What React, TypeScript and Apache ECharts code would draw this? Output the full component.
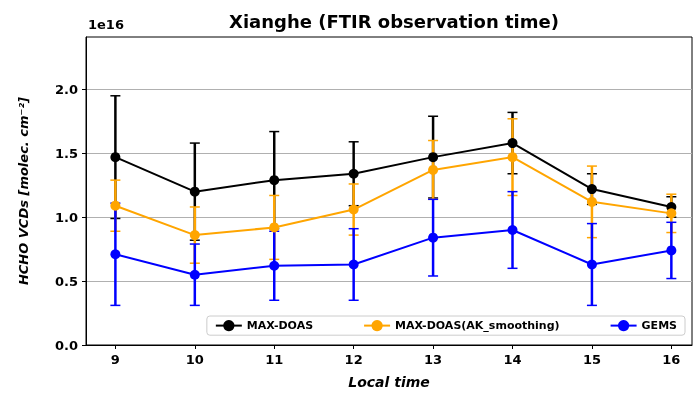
import * as echarts from 'echarts';
import { useEffect, useRef } from 'react';

const hours = [9, 10, 11, 12, 13, 14, 15, 16];
const maxdoas = [1.47, 1.2, 1.29, 1.34, 1.47, 1.58, 1.22, 1.08];
const maxdoasErr = [0.48, 0.38, 0.38, 0.25, 0.32, 0.24, 0.12, 0.08];
const akSmooth = [1.09, 0.86, 0.92, 1.06, 1.37, 1.47, 1.12, 1.03];
const akErr = [0.2, 0.22, 0.25, 0.2, 0.23, 0.3, 0.28, 0.15];
const gems = [0.71, 0.55, 0.62, 0.63, 0.84, 0.9, 0.63, 0.74];
const gemsErr = [0.4, 0.24, 0.27, 0.28, 0.3, 0.3, 0.32, 0.22];
const yTicks = [0, 0.5, 1.0, 1.5, 2.0];

function errSeries(vals: number[], errs: number[], color: string) {
    return {
        type: 'custom',
        silent: true,
        data: hours.map((h, i) => [h, vals[i] - errs[i], vals[i] + errs[i]]),
        renderItem: (params: any, api: any) => {
            const lo = api.coord([api.value(0), api.value(1)]);
            const hi = api.coord([api.value(0), api.value(2)]);
            const w = 5;
            const style = { stroke: color, lineWidth: 2.5 };
            return {
                type: 'group',
                children: [
                    { type: 'line', shape: { x1: lo[0], y1: lo[1], x2: hi[0], y2: hi[1] }, style },
                    { type: 'line', shape: { x1: lo[0] - w, y1: lo[1], x2: lo[0] + w, y2: lo[1] }, style: { stroke: color, lineWidth: 1.5 } },
                    { type: 'line', shape: { x1: hi[0] - w, y1: hi[1], x2: hi[0] + w, y2: hi[1] }, style: { stroke: color, lineWidth: 1.5 } },
                ],
            };
        },
    };
}

function lineSeries(name: string, vals: number[], color: string) {
    return {
        name,
        type: 'line',
        data: hours.map((h, i) => [h, vals[i]]),
        symbol: 'circle',
        symbolSize: 10,
        lineStyle: { color, width: 2 },
        itemStyle: { color },
        z: 3,
    };
}

export default function App() {
    const chartRef = useRef<HTMLDivElement>(null);

    useEffect(() => {
        const chart = echarts.init(chartRef.current, null, { renderer: 'svg' });
        chart.setOption({
            animation: false,
            textStyle: { fontFamily: 'DejaVu Sans' },
            title: {
                text: 'Xianghe (FTIR observation time)',
                left: 389, top: 7, textAlign: 'center',
                textStyle: { fontSize: 18, fontWeight: 'bold', color: '#000' },
            },
            graphic: [
                { type: 'text', left: 88, top: 18, style: { text: '1e16', font: 'bold 13px DejaVu Sans', fill: '#000' } },
            ],
            legend: {
                right: 8, top: 316,
                data: ['MAX-DOAS', 'MAX-DOAS(AK_smoothing)', 'GEMS'],
                borderColor: '#ccc', borderWidth: 1, borderRadius: 3,
                backgroundColor: '#fff',
                padding: [4, 8],
                itemGap: 50,
                itemWidth: 26,
                textStyle: { fontSize: 11, fontWeight: 'bold', color: '#000' },
            },
            grid: { left: 86, right: 1, top: 37, bottom: 55, show: true, borderColor: '#000', borderWidth: 1 },
            xAxis: {
                type: 'value', min: 8.63, max: 16.26,
                name: 'Local time', nameLocation: 'middle', nameGap: 30,
                nameTextStyle: { fontSize: 14, fontWeight: 'bold', fontStyle: 'italic', color: '#000' },
                axisLine: { lineStyle: { color: '#000' } },
                axisTick: { show: true, customValues: hours, length: 4, lineStyle: { color: '#000' } },
                axisLabel: { customValues: hours, fontSize: 13, fontWeight: 'bold', color: '#000' },
                splitLine: { show: false },
            },
            yAxis: {
                type: 'value', min: 0, max: 2.41,
                name: 'HCHO VCDs [molec. cm⁻²]', nameLocation: 'middle', nameGap: 56,
                nameTextStyle: { fontSize: 13, fontWeight: 'bold', fontStyle: 'italic', color: '#000' },
                axisLine: { lineStyle: { color: '#000' } },
                axisTick: { show: true, customValues: yTicks, length: 4, lineStyle: { color: '#000' } },
                axisLabel: { customValues: yTicks, fontSize: 13, fontWeight: 'bold', color: '#000', formatter: (v: number) => v.toFixed(1) },
                splitLine: { show: true, lineStyle: { color: '#b0b0b0' } },
            },
            series: [
                errSeries(maxdoas, maxdoasErr, '#000'),
                errSeries(akSmooth, akErr, '#ffa500'),
                errSeries(gems, gemsErr, '#0000ff'),
                lineSeries('MAX-DOAS', maxdoas, '#000'),
                lineSeries('MAX-DOAS(AK_smoothing)', akSmooth, '#ffa500'),
                lineSeries('GEMS', gems, '#0000ff'),
            ],
        });
        return () => chart.dispose();
    }, []);

    return <div ref={chartRef} style={{ position: 'fixed', left: 0, top: 0, width: 693, height: 400 }} />;
}
